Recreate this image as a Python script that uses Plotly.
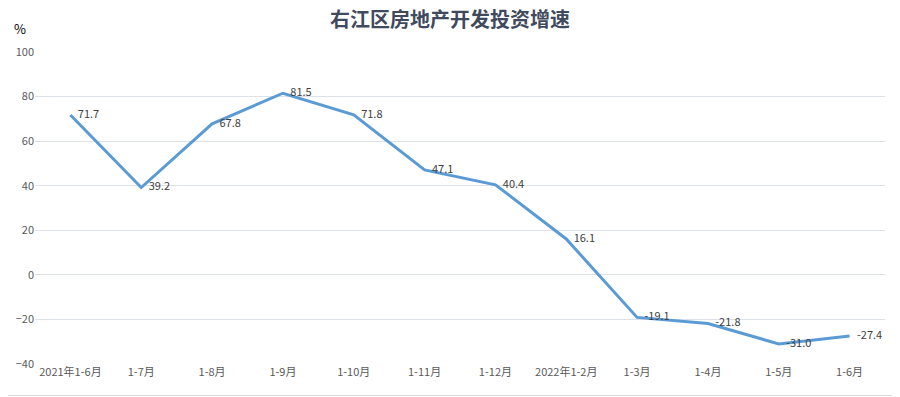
import plotly.graph_objects as go

categories = ["2021年1-6月", "1-7月", "1-8月", "1-9月", "1-10月", "1-11月", "1-12月",
              "2022年1-2月", "1-3月", "1-4月", "1-5月", "1-6月"]
values = [71.7, 39.2, 67.8, 81.5, 71.8, 47.1, 40.4, 16.1, -19.1, -21.8, -31.0, -27.4]
labels = ["\u00a0\u00a0\u00a0" + f"{v:.1f}" for v in values]

# page body adds an 8px offset; figure is sized/shifted to compensate
W, H = 892, 389
L, R, T, B = 27, 15, 44, 33
PW, PH = W - L - R, H - T - B

fig = go.Figure()
fig.add_trace(go.Scatter(
    x=categories, y=values, mode="lines+text",
    line=dict(color="#5B9BD5", width=3),
    text=labels, textposition="middle right",
    textfont=dict(family="Noto Sans CJK SC, sans-serif", size=11, color="#404040"),
    cliponaxis=False, hoverinfo="skip",
))

fig.update_layout(
    width=W, height=H,
    margin=dict(l=L, r=R, t=T, b=B, autoexpand=False),
    paper_bgcolor="white", plot_bgcolor="white",
    showlegend=False,
    title=dict(text="右江区房地产开发投资增速", x=442 / W, xanchor="center",
               y=1 - 5 / H, yanchor="top",
               font=dict(family="Noto Sans CJK SC, serif", size=20, color="#3F4A5E",
                         weight="bold")),
    xaxis=dict(type="category", range=[-0.5, len(categories) - 0.5], showgrid=False,
               showline=False, ticks="", automargin=False,
               tickfont=dict(family="Noto Sans CJK SC, sans-serif", size=11, color="#595959")),
    yaxis=dict(range=[-40, 100], dtick=20, showgrid=True, gridcolor="#DDE2EA", gridwidth=1,
               zeroline=False, showline=False, ticks="", automargin=False,
               tickfont=dict(family="Noto Sans CJK SC, sans-serif", size=11, color="#595959")),
    font=dict(family="Noto Sans CJK SC, sans-serif"),
)
fig.add_annotation(text="%", xref="paper", yref="paper", x=(12 - L) / PW, y=1 + (T - 20) / PH,
                   xanchor="center", yanchor="middle", showarrow=False,
                   font=dict(family="Noto Sans CJK SC, sans-serif", size=13, color="#000000"))
# right and bottom border lines of the chart frame
xr = (890 - L) / PW
yb = (T + PH - 387.5) / PH
fig.add_shape(type="line", xref="paper", yref="paper", x0=xr, x1=xr, y0=yb, y1=1 + T / PH,
              line=dict(color="#D9D9D9", width=1))
fig.add_shape(type="line", xref="paper", yref="paper", x0=-L / PW, x1=xr, y0=yb, y1=yb,
              line=dict(color="#D9D9D9", width=1))

fig.write_html("out.html")
